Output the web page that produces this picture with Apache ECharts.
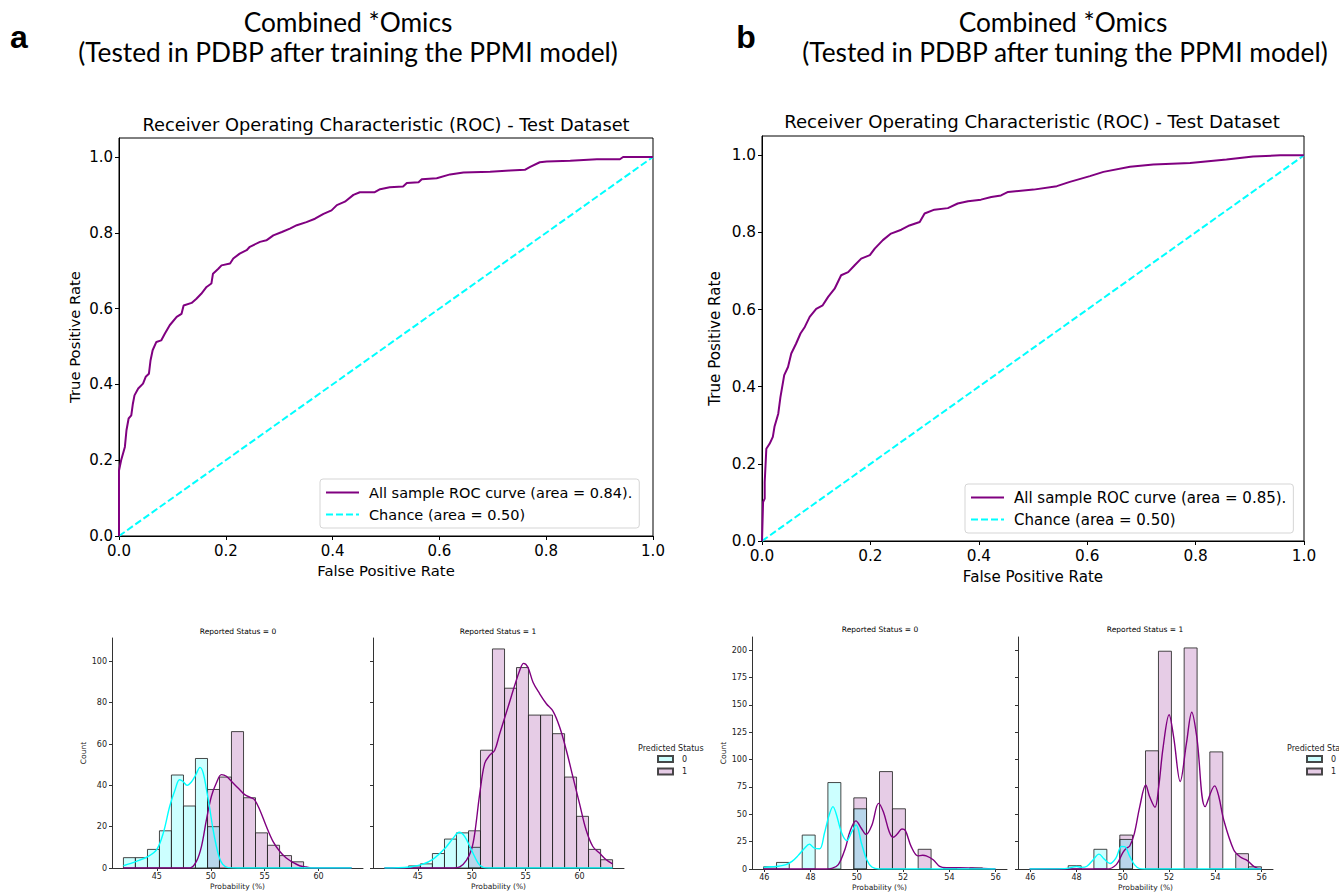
<!DOCTYPE html>
<html><head><meta charset="utf-8">
<script src="https://cdn.jsdelivr.net/npm/echarts@6/dist/echarts.min.js"></script>
<style>html,body{margin:0;padding:0;background:#fff}#c{width:1339px;height:895px}</style>
</head><body><div id="c"></div>
<script>
// ---------------- DATA ----------------
const rocCurveA = [[0,0],[0,0.173],[0.004,0.2],[0.011,0.235],[0.014,0.279],[0.018,0.31],[0.023,0.318],[0.026,0.349],[0.029,0.371],[0.036,0.389],[0.045,0.402],[0.05,0.42],[0.056,0.428],[0.059,0.463],[0.063,0.49],[0.07,0.512],[0.079,0.516],[0.086,0.534],[0.095,0.556],[0.108,0.578],[0.117,0.586],[0.121,0.608],[0.136,0.615],[0.145,0.626],[0.154,0.639],[0.164,0.657],[0.173,0.666],[0.176,0.692],[0.186,0.705],[0.192,0.714],[0.208,0.719],[0.214,0.732],[0.226,0.745],[0.239,0.754],[0.245,0.763],[0.264,0.776],[0.276,0.78],[0.289,0.793],[0.305,0.802],[0.32,0.811],[0.333,0.82],[0.351,0.828],[0.367,0.837],[0.383,0.85],[0.398,0.859],[0.408,0.873],[0.423,0.882],[0.439,0.9],[0.451,0.907],[0.479,0.907],[0.489,0.915],[0.507,0.92],[0.532,0.922],[0.539,0.931],[0.561,0.933],[0.567,0.941],[0.595,0.944],[0.62,0.954],[0.645,0.959],[0.695,0.961],[0.732,0.964],[0.76,0.966],[0.77,0.974],[0.788,0.986],[0.801,0.988],[0.845,0.99],[0.895,0.994],[0.938,0.994],[0.944,1],[1,1]];
const rocCurveB = [[0,0],[0.002,0.101],[0.005,0.11],[0.005,0.153],[0.008,0.239],[0.014,0.252],[0.02,0.27],[0.023,0.296],[0.03,0.33],[0.034,0.373],[0.041,0.43],[0.048,0.451],[0.054,0.486],[0.063,0.512],[0.071,0.538],[0.079,0.555],[0.088,0.581],[0.1,0.602],[0.112,0.611],[0.122,0.633],[0.134,0.654],[0.146,0.689],[0.159,0.697],[0.171,0.715],[0.183,0.732],[0.199,0.741],[0.208,0.758],[0.223,0.78],[0.238,0.797],[0.257,0.807],[0.272,0.818],[0.291,0.827],[0.3,0.849],[0.318,0.859],[0.343,0.863],[0.361,0.875],[0.38,0.881],[0.404,0.885],[0.423,0.892],[0.441,0.896],[0.454,0.905],[0.501,0.911],[0.544,0.92],[0.568,0.931],[0.605,0.946],[0.63,0.957],[0.679,0.97],[0.722,0.976],[0.79,0.98],[0.857,0.989],[0.906,0.997],[0.956,1],[1,1]];
const chanceLine = [[0,0],[1,1]];
const rocTicks = [0,0.2,0.4,0.6,0.8,1.0];

// Histogram (panel a): shared bin edges and counts per predicted status
const binEdgesA = [41.90,43.01,44.13,45.24,46.35,47.47,48.58,49.70,50.81,51.92,53.04,54.15,55.26,56.38,57.49,58.61,59.72,60.83,61.95,63.06];
const countsA_rep0_pred0 = [5,5,9,18,45,30,53,20,0,0,0,0,0,0,0,0,0,0,0];
const countsA_rep0_pred1 = [0,0,0,0,0,0,0,38,44,66,34,17,11,6,3,0,0,0,0];
const countsA_rep1_pred0 = [0,0,1,2,7,14,17,10,0,0,0,0,0,0,0,0,0,0,0];
const countsA_rep1_pred1 = [0,0,0,0,0,0,0,18,57,106,87,97,74,74,65,44,25,9,4];
const kdeA_rep0_pred0 = [[41.9,1.1],[43.1,3.2],[44.2,5.6],[45.0,9],[45.6,17],[46.2,30],[46.7,38],[47.1,42.7],[47.4,42],[47.8,40],[48.2,41.6],[48.6,45],[49.0,48.7],[49.3,46],[49.6,38],[49.9,29],[50.2,19],[50.5,11],[50.8,5],[51.1,1.8],[51.6,0.2],[52.5,0],[63.06,0]];
const kdeA_rep0_pred1 = [[41.9,0],[48.06,0],[48.67,3.2],[49.14,10.5],[49.6,23.4],[50.06,34.7],[50.52,41.1],[50.99,45.2],[51.45,44.4],[52.07,41.1],[52.69,37.9],[53.15,35.5],[53.77,33.9],[54.07,33],[54.54,28.2],[55.15,20.2],[55.77,12.9],[56.39,8.1],[57.0,4.8],[57.62,2.7],[58.24,1.1],[58.86,0.5],[59.47,0],[63.06,0]];
const kdeA_rep1_pred0 = [[41.9,0],[43.2,0.1],[44.2,0.5],[45.34,1.6],[46.42,4.3],[47.53,9.6],[48.27,14.4],[48.83,17.3],[49.35,15.2],[49.97,8.8],[50.59,2.4],[51.05,0.3],[51.6,0],[63.06,0]];
const kdeA_rep1_pred1 = [[41.9,0],[48.3,0],[48.89,0.5],[49.5,3.7],[49.97,8.8],[50.28,16.9],[50.74,36],[51.2,50.6],[51.67,54.6],[52.13,57],[52.59,65],[53.36,77.8],[53.98,88.3],[54.44,95.5],[54.81,99],[55.21,97.1],[55.68,89.9],[56.3,84.3],[56.92,79.5],[57.53,75.9],[58.15,68.2],[58.77,57],[59.38,44.1],[59.99,31.3],[60.6,18.5],[61.23,10.4],[61.85,7.2],[62.47,4],[63.06,2]];

// Histogram (panel b)
const binEdgesB = [45.97,46.53,47.08,47.64,48.20,48.75,49.31,49.87,50.42,50.98,51.54,52.10,52.65,53.21,53.76,54.32,54.88,55.43,55.99];
const countsB_rep0_pred0 = [2,6,0,31,0,79,0,55,0,0,0,0,0,0,0,0,0,0];
const countsB_rep0_pred1 = [0,0,0,0,0,0,0,65,0,89,55,0,18,0,1,0,1,0];
const countsB_rep1_pred0 = [0,0,0,3,0,18,0,27,0,0,0,0,0,0,0,0,0,0];
const countsB_rep1_pred1 = [0,0,0,0,0,0,0,31,0,108,199,0,202,0,107,0,14,2];
const kdeB_rep0_pred0 = [[45.97,1.5],[46.3,2],[46.6,2.5],[46.94,4],[47.2,7],[47.45,12],[47.74,19],[47.95,22.7],[48.17,19],[48.4,18.5],[48.6,32.7],[48.8,49],[48.97,57],[49.1,51],[49.35,32.7],[49.57,26],[49.78,34],[49.97,40.3],[50.2,23.6],[50.43,8.5],[50.65,1.8],[50.95,0],[55.99,0]];
const kdeB_rep0_pred1 = [[45.97,0],[48.7,0],[48.9,0.5],[49.2,4],[49.5,18.8],[49.7,34],[49.96,44],[50.2,37],[50.4,31.6],[50.65,40],[50.94,60],[51.15,52],[51.4,34],[51.56,29],[51.75,32],[51.95,36.5],[52.1,35],[52.35,20.5],[52.64,12],[52.85,12.5],[53.0,12],[53.3,8.5],[53.58,2.4],[53.87,1.2],[54.45,1.2],[55.0,0.9],[55.45,0.6],[55.99,0]];
const kdeB_rep1_pred0 = [[45.97,0],[47.5,0.3],[47.8,1.5],[48.0,2.4],[48.2,1.5],[48.45,2.5],[48.7,8],[48.97,13.6],[49.2,9],[49.45,5],[49.7,10],[49.94,20.5],[50.08,20.4],[50.3,11.5],[50.5,4],[50.73,0.3],[51.0,0],[55.99,0]];
const kdeB_rep1_pred1 = [[45.97,0],[49.3,0],[49.72,4],[50.0,15],[50.15,19],[50.3,21],[50.5,32.6],[50.73,56.8],[50.99,76.7],[51.16,66],[51.39,56.4],[51.55,75],[51.74,111],[52.0,141],[52.2,120],[52.48,80],[52.75,115],[52.98,143.3],[53.2,120],[53.56,57],[53.97,76],[54.15,66],[54.36,44.8],[54.79,17.6],[55.08,10.9],[55.37,7.9],[55.66,2.4],[55.95,0],[55.99,0]];

const histTicksXA = [45,50,55,60];
const histTicksYA = [0,20,40,60,80,100];
const histTicksXB = [46,48,50,52,54,56];
const histTicksYB = [0,25,50,75,100,125,150,175,200];

// ---------------- STYLE ----------------
const PURPLE = '#800080', CYAN = '#00ffff';
const FILL1 = 'rgba(128,0,128,0.2)', FILL0 = 'rgba(0,255,255,0.2)';
const EDGE = 'rgba(40,40,40,0.85)';
const FONT = 'DejaVu Sans';

function bars(edges, counts) {
  const out = [];
  counts.forEach((c, i) => { if (c > 0) out.push([edges[i], edges[i + 1], c]); });
  return out;
}
function renderBar(params, api) {
  const p0 = api.coord([api.value(0), api.value(2)]);
  const p1 = api.coord([api.value(1), 0]);
  return { type: 'rect', shape: { x: p0[0], y: p0[1], width: p1[0] - p0[0], height: p1[1] - p0[1] },
    style: { fill: api.visual('color'), stroke: EDGE, lineWidth: 1 } };
}

const grids = [
  { left: 119, top: 138, width: 534, height: 398, show: true, borderColor: '#000', borderWidth: 1 },
  { left: 762, top: 136, width: 542, height: 405, show: true, borderColor: '#000', borderWidth: 1 },
  { left: 112, top: 638, width: 251, height: 230 },
  { left: 373, top: 638, width: 251, height: 230 },
  { left: 752, top: 637, width: 255, height: 232 },
  { left: 1018, top: 637, width: 255, height: 232 }
];

function rocX(gi, gap, fs) {
  return { type: 'value', gridIndex: gi, min: 0, max: 1, interval: 0.2,
    name: 'False Positive Rate', nameLocation: 'middle', nameGap: gap,
    nameTextStyle: { fontFamily: FONT, fontSize: fs, color: '#000' },
    axisLine: { show: true, lineStyle: { color: '#000', width: 1 } },
    axisTick: { show: true, length: 4, lineStyle: { color: '#000' } },
    axisLabel: { fontFamily: FONT, fontSize: fs + 0.2, color: '#000', margin: 7, formatter: v => v.toFixed(1) },
    splitLine: { show: false } };
}
function rocY(gi, gap, fs) {
  return { type: 'value', gridIndex: gi, min: 0, max: 1.05,
    name: 'True Positive Rate', nameLocation: 'middle', nameGap: gap, nameRotate: 90,
    nameTextStyle: { fontFamily: FONT, fontSize: fs, color: '#000' },
    axisLine: { show: true, lineStyle: { color: '#000', width: 1 } },
    axisTick: { show: true, length: 4, customValues: rocTicks, lineStyle: { color: '#000' } },
    axisLabel: { fontFamily: FONT, fontSize: fs + 0.2, color: '#000', margin: 6, customValues: rocTicks, formatter: v => v.toFixed(1) },
    splitLine: { show: false } };
}
function histX(gi, min, max, ticks) {
  return { type: 'value', gridIndex: gi, min: min, max: max,
    name: 'Probability (%)', nameLocation: 'middle', nameGap: 14,
    nameTextStyle: { fontFamily: FONT, fontSize: 7.5, color: '#222' },
    axisLine: { show: true, lineStyle: { color: '#333', width: 1 } },
    axisTick: { show: true, length: 3, customValues: ticks, lineStyle: { color: '#333' } },
    axisLabel: { fontFamily: FONT, fontSize: 8, color: '#222', margin: 4, customValues: ticks },
    splitLine: { show: false } };
}
function histY(gi, max, ticks, showLabels) {
  return { type: 'value', gridIndex: gi, min: 0, max: max,
    name: showLabels ? 'Count' : '', nameLocation: 'middle', nameGap: 23, nameRotate: 90,
    nameTextStyle: { fontFamily: FONT, fontSize: 7.5, color: '#222' },
    axisLine: { show: true, lineStyle: { color: '#333', width: 1 } },
    axisTick: { show: true, length: 3, customValues: ticks, lineStyle: { color: '#333' } },
    axisLabel: { show: showLabels, fontFamily: FONT, fontSize: 8, color: '#222', margin: 5, customValues: ticks },
    splitLine: { show: false } };
}

const xAxes = [rocX(0, 27, 14.8), rocX(1, 28, 15.1),
  histX(2, 40.84, 64.12, histTicksXA), histX(3, 40.84, 64.12, histTicksXA),
  histX(4, 45.47, 56.49, histTicksXB), histX(5, 45.47, 56.49, histTicksXB)];
const yAxes = [rocY(0, 37, 14.8), rocY(1, 40, 15.1),
  histY(2, 111.3, histTicksYA, true), histY(3, 111.3, histTicksYA, false),
  histY(4, 212, histTicksYB, true), histY(5, 212, histTicksYB, false)];

const nameA = 'All sample ROC curve (area = 0.84).';
const nameB = 'All sample ROC curve (area = 0.85).';
const nameChance = 'Chance (area = 0.50)';

function rocLine(i, name, data) {
  return { type: 'line', name: name, xAxisIndex: i, yAxisIndex: i, data: data, symbol: 'none',
    lineStyle: { color: PURPLE, width: 2 }, itemStyle: { color: PURPLE }, z: 3, animation: false };
}
function chance(i) {
  return { type: 'line', name: nameChance, xAxisIndex: i, yAxisIndex: i, data: chanceLine, symbol: 'none',
    lineStyle: { color: CYAN, width: 2, type: [7, 3] }, itemStyle: { color: CYAN }, z: 2, animation: false };
}
function barSeries(i, name, fill, data) {
  return { type: 'custom', name: name, xAxisIndex: i, yAxisIndex: i, data: data, renderItem: renderBar,
    encode: { x: [0, 1], y: 2 }, itemStyle: { color: fill, borderColor: EDGE, borderWidth: 1 }, animation: false };
}
function kde(i, name, color, data) {
  return { type: 'line', name: name, xAxisIndex: i, yAxisIndex: i, data: data, symbol: 'none', smooth: 0.35,
    lineStyle: { color: color, width: 1.4 }, itemStyle: { color: color }, z: 4, animation: false };
}

const series = [
  rocLine(0, nameA, rocCurveA), chance(0),
  rocLine(1, nameB, rocCurveB), chance(1),
  barSeries(2, '1', FILL1, bars(binEdgesA, countsA_rep0_pred1)),
  barSeries(2, '0', FILL0, bars(binEdgesA, countsA_rep0_pred0)),
  kde(2, 'kde1', PURPLE, kdeA_rep0_pred1), kde(2, 'kde0', CYAN, kdeA_rep0_pred0),
  barSeries(3, '1', FILL1, bars(binEdgesA, countsA_rep1_pred1)),
  barSeries(3, '0', FILL0, bars(binEdgesA, countsA_rep1_pred0)),
  kde(3, 'kde1', PURPLE, kdeA_rep1_pred1), kde(3, 'kde0', CYAN, kdeA_rep1_pred0),
  barSeries(4, '1', FILL1, bars(binEdgesB, countsB_rep0_pred1)),
  barSeries(4, '0', FILL0, bars(binEdgesB, countsB_rep0_pred0)),
  kde(4, 'kde1', PURPLE, kdeB_rep0_pred1), kde(4, 'kde0', CYAN, kdeB_rep0_pred0),
  barSeries(5, '1', FILL1, bars(binEdgesB, countsB_rep1_pred1)),
  barSeries(5, '0', FILL0, bars(binEdgesB, countsB_rep1_pred0)),
  kde(5, 'kde1', PURPLE, kdeB_rep1_pred1), kde(5, 'kde0', CYAN, kdeB_rep1_pred0)
];

function rocLegend(name, left, top, fs) {
  return { data: [name, nameChance], orient: 'vertical', left: left, top: top,
    itemWidth: 33, itemHeight: 15, itemGap: 7, padding: [6, 7, 6, 5],
    itemStyle: { opacity: 0 },
    backgroundColor: '#fff', borderColor: '#d5d5d5', borderWidth: 1, borderRadius: 3,
    textStyle: { fontFamily: FONT, fontSize: fs, color: '#000', lineHeight: 15, padding: [0, 0, 0, 5] },
    selectedMode: false };
}
function histLegend(left, top) {
  return { data: ['0', '1'], orient: 'vertical', left: left, top: top, icon: 'rect',
    itemWidth: 15, itemHeight: 6, itemGap: 2.5, padding: 0,
    textStyle: { fontFamily: FONT, fontSize: 8, color: '#222', lineHeight: 10, padding: [0, 0, 0, 4] },
    selectedMode: false };
}

function txt(x, y, text, font, opts) {
  return Object.assign({ type: 'text', x: x, y: y, silent: true,
    style: { text: text, font: font, fill: '#000', textAlign: 'center', textVerticalAlign: 'middle' } }, opts || {});
}
const TITLE_FONT = '26.3px Lato';
const graphics = [
  txt(19, 37, 'a', 'bold 32px "Liberation Sans"'),
  txt(746, 37, 'b', 'bold 32px "Liberation Sans"'),
  txt(348, 22, 'Combined *Omics', TITLE_FONT),
  txt(348, 52, '(Tested in PDBP after training the PPMI model)', TITLE_FONT),
  txt(1063, 22, 'Combined *Omics', TITLE_FONT),
  txt(1065, 52, '(Tested in PDBP after tuning the PPMI model)', TITLE_FONT),
  txt(386, 124, 'Receiver Operating Characteristic (ROC) - Test Dataset', '17.8px "DejaVu Sans"'),
  txt(1032, 121, 'Receiver Operating Characteristic (ROC) - Test Dataset', '18.1px "DejaVu Sans"'),
  txt(238, 631, 'Reported Status = 0', '7.5px "DejaVu Sans"'),
  txt(498, 631, 'Reported Status = 1', '7.5px "DejaVu Sans"'),
  txt(880, 629, 'Reported Status = 0', '7.5px "DejaVu Sans"'),
  txt(1145, 629, 'Reported Status = 1', '7.5px "DejaVu Sans"'),
  { type: 'text', x: 638, y: 748, silent: true, style: { text: 'Predicted Status', font: '8px "DejaVu Sans"', fill: '#222', textAlign: 'left', textVerticalAlign: 'middle' } },
  { type: 'text', x: 1287, y: 748, silent: true, style: { text: 'Predicted Status', font: '8px "DejaVu Sans"', fill: '#222', textAlign: 'left', textVerticalAlign: 'middle' } }
];

const chart = echarts.init(document.getElementById('c'), null, { renderer: 'svg', width: 1339, height: 895 });
chart.setOption({
  backgroundColor: '#fff',
  animation: false,
  grid: grids,
  xAxis: xAxes,
  yAxis: yAxes,
  legend: [rocLegend(nameA, 320, 479, 14.5), rocLegend(nameB, 965, 484, 15), histLegend(657, 754), histLegend(1306, 754)],
  graphic: graphics,
  series: series
});
</script></body></html>
